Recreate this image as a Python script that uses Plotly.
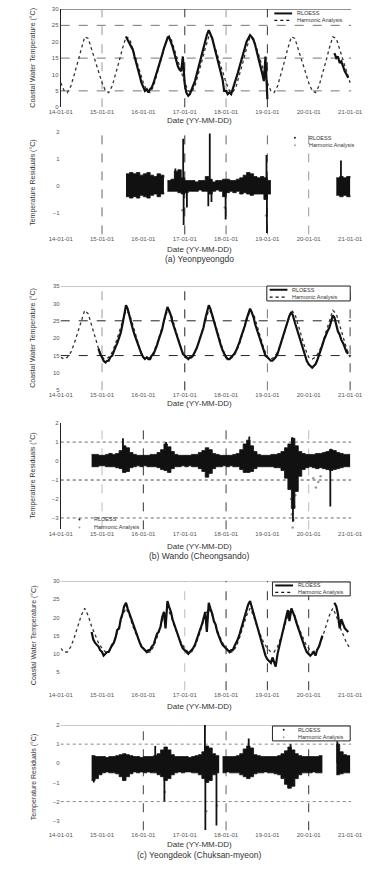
import pandas as pd
import plotly.graph_objects as go

W, H = 380, 874
FONT = "Liberation Sans"

# ---------------------------------------------------------------- data
x_start, x_end = "2014-01-01", "2021-01-10"
year_ticks = ["2014-01-01", "2015-01-01", "2016-01-01", "2017-01-01",
              "2018-01-01", "2019-01-01", "2020-01-01", "2021-01-01"]

series_names = ["RLOESS", "Harmonic Analysis"]
captions = ["(a) Yeonpyeongdo", "(b) Wando (Cheongsando)", "(c) Yeongdeok (Chuksan-myeon)"]
temp_title = "Coastal Water Temperature (°C)"
resid_title = "Temperature Residuals (°C)"
date_title = "Date (YY-MM-DD)"

# harmonic fits, first day of each month 2014-01 .. 2021-01
harm_start = "2014-01-01"
harm_a = [
    7.5, 5, 4.5, 6.5, 10, 14, 18, 21.5, 21, 17.5, 14, 10.5,
    7.5, 5, 4.5, 6.5, 10, 14, 18, 21.5, 21, 17.5, 14, 10.5,
    7.5, 5, 4.5, 6.5, 10, 14, 18, 21.5, 21, 17.5, 14, 10.5,
    7.5, 5, 4.5, 6.5, 10, 14, 18, 21.5, 21, 17.5, 14, 10.5,
    7.5, 5, 4.5, 6.5, 10, 14, 18, 21.5, 21, 17.5, 14, 10.5,
    7.5, 5, 4.5, 6.5, 10, 14, 18, 21.5, 21, 17.5, 14, 10.5,
    7.5, 5, 4.5, 6.5, 10, 14, 18, 21.5, 21, 17.5, 14, 10.5,
    7.5]
harm_b = [
    14.5, 14, 14.5, 16, 18.5, 21.5, 24.5, 28, 27, 23.5, 20, 17,
    14.5, 14, 14.5, 16, 18.5, 21.5, 24.5, 28, 27, 23.5, 20, 17,
    14.5, 14, 14.5, 16, 18.5, 21.5, 24.5, 28, 27, 23.5, 20, 17,
    14.5, 14, 14.5, 16, 18.5, 21.5, 24.5, 28, 27, 23.5, 20, 17,
    14.5, 14, 14.5, 16, 18.5, 21.5, 24.5, 28, 27, 23.5, 20, 17,
    14.5, 14, 14.5, 16, 18.5, 21.5, 24.5, 28, 27, 23.5, 20, 17,
    14.5, 14, 14.5, 16, 18.5, 21.5, 24.5, 28, 27, 23.5, 20, 17,
    14.5]
harm_c = [
    11.5, 10.5, 10.5, 12, 14.5, 17.5, 20.5, 22.5, 20.5, 17.5, 15, 13,
    11.5, 10.5, 10.5, 12, 14.5, 17.5, 20.5, 22.5, 20.5, 17.5, 15, 13,
    11.5, 10.5, 10.5, 12, 14.5, 17.5, 20.5, 22.5, 20.5, 17.5, 15, 13,
    11.5, 10.5, 10.5, 12, 14.5, 17.5, 20.5, 22.5, 20.5, 17.5, 15, 13,
    11.5, 10.5, 10.5, 12, 14.5, 17.5, 20.5, 22.5, 20.5, 17.5, 15, 13,
    11.5, 10.5, 10.5, 12, 14.5, 17.5, 20.5, 22.5, 20.5, 17.5, 15, 13,
    11.5, 10.5, 10.5, 12, 14.5, 17.5, 20.5, 22.5, 20.5, 17.5, 15, 13,
    11.5]

# RLOESS temperatures, 1st and 15th of each month
obs_a1_start = "2015-08-01"
obs_a1 = [
    21.5, 20.5, 19.5, 18.5, 17.5, 15.5, 13.5, 11.5, 9.5, 7.5,
    6, 5, 5.5, 4.5, 5.5, 6, 7.5, 9, 11, 12.5, 14.5, 16, 18, 19.5, 21, 21.5, 20, 18.5, 16.5, 14.5, 12.5, 11.5, 11, 15.5,
    7, 4.5, 3.5, 4, 5, 6.5, 8, 10, 12, 14, 16, 18, 20, 22, 23.5, 22.5, 21, 19, 17, 15, 13, 11, 8.5, 5,
    5, 4, 4.5, 4, 5.5, 7, 8.5, 10.5, 12.5, 14, 16, 18, 20, 21, 22, 21.5, 20.5, 19, 17, 15, 12.5, 10.5, 8, 15.5,
    2.5]
obs_a2_start = "2020-08-15"
obs_a2 = [16.5, 15, 15.5, 13.5, 14, 12, 11, 10, 9]

obs_b_start = "2014-12-01"
obs_b = [
    17, 15.5,
    14.5, 13.5, 13, 13.5, 13.5, 14.5, 15, 16.5, 17.5, 18.5, 20, 21.5, 24, 26.5, 29.5, 28.5, 26, 24.5, 22.5, 21, 19.5, 18, 16.5, 15.5,
    14.5, 14, 14.5, 14, 14, 15, 15.5, 16.5, 18, 19.5, 21, 22.5, 25, 27, 29, 28, 26.5, 24.5, 23, 21.5, 20, 18.5, 17, 15.5,
    15, 14.5, 14, 14.5, 14.5, 15, 16, 17, 18.5, 20, 21.5, 23, 25.5, 27.5, 29.5, 28.5, 26.5, 24.5, 22.5, 21, 19.5, 18, 16.5, 15.5,
    14.5, 14, 14, 14.5, 15, 15.5, 16.5, 17.5, 19, 20.5, 22, 23.5, 25.5, 27, 28.5, 27.5, 26, 24, 22.5, 21, 19.5, 18, 16.5, 15,
    14.5, 14, 13.5, 13.5, 14, 14.5, 15.5, 17, 18.5, 20, 21.5, 23, 25, 26.5, 27.5, 26.5, 24.5, 23, 21.5, 20, 18, 16.5, 15, 13.5,
    12.5, 12, 11.5, 12, 12.5, 13.5, 15, 16.5, 18, 19.5, 21, 22, 23, 25, 26.5, 26, 24, 22, 21, 19.5, 18.5, 17, 16, 15.5]

obs_c_start = "2014-10-01"
obs_c = [
    16, 14, 13, 12.5, 12, 11,
    10.5, 9.5, 10, 10.5, 10.5, 11.5, 12.5, 13, 14.5, 16.5, 17, 19.5, 21, 23, 24, 22.5, 21, 19.5, 18, 17, 15.5, 14, 13, 12,
    11.5, 11, 10.5, 11, 11, 12, 12.5, 14, 15.5, 16, 17.5, 20, 21.5, 17, 24.5, 23, 21.5, 19.5, 18, 16.5, 15, 13.5, 12.5, 11.5,
    11, 10.5, 10, 10.5, 11, 11.5, 12.5, 14, 15, 16.5, 18, 19.5, 21.5, 16, 24, 22.5, 21, 19, 18, 16, 14.5, 13.5, 12.5, 12,
    11.5, 11, 10.5, 11, 11, 12, 13, 14, 15.5, 17, 18.5, 20.5, 22, 23.5, 24.5, 23, 21, 19.5, 18, 16.5, 14.5, 12.5, 11, 9.5,
    8.5, 8, 7.5, 9, 8, 6.5, 10, 12, 14.5, 16.5, 18.5, 20, 22, 19, 22.5, 21.5, 20, 18.5, 17, 15.5, 14, 12.5, 11.5, 10.5,
    10, 9.5, 10, 10.5, 9.5, 11, 12, 13.5, 15, None, None, None, None, None, None, 24, 23, 21, 17, 19.5, 18, 17, 16.5, 16]

# RLOESS residual envelopes (monthly upper / lower), one list pair per record
res_a1_start = "2015-08-01"
res_a1_hi = [0.45, 0.5, 0.45, 0.5, 0.4, 0.45, 0.5, 0.4, 0.35, 0.45, 0.4, 0.3]
res_a1_lo = [-0.4, -0.45, -0.4, -0.45, -0.35, -0.4, -0.45, -0.35, -0.3, -0.4, -0.3, -0.25]
res_a2_start = "2016-08-01"
res_a2_hi = [0.2, 0.25, 0.55, 0.6, 0.3, 0.2, 0.2, 0.2, 0.15, 0.2, 0.2, 0.35, 0.25, 0.15, 0.2,
             0.2, 0.25, 0.25, 0.2, 0.2, 0.25, 0.3, 0.4, 0.5, 0.45, 0.35, 0.3, 0.35, 0.3, 0.2, 0.2]
res_a2_lo = [-0.2, -0.2, -0.2, -0.25, -0.3, -0.25, -0.2, -0.2, -0.2, -0.15, -0.2, -0.2, -0.3, -0.2, -0.15,
             -0.2, -0.4, -0.25, -0.2, -0.25, -0.2, -0.3, -0.25, -0.3, -0.35, -0.3, -0.3, -0.3, -0.5, -0.3, -0.3]
res_a3_start = "2020-09-01"
res_a3_hi = [0.3, 0.35, 0.3, 0.35, 0.3]
res_a3_lo = [-0.35, -0.4, -0.35, -0.4, -0.35]

res_b_start = "2014-10-01"
res_b_hi = [0.35, 0.35, 0.3,
            0.3, 0.35, 0.4, 0.35, 0.4, 0.55, 0.8, 0.7, 0.45, 0.35, 0.3, 0.3,
            0.3, 0.3, 0.35, 0.35, 0.45, 0.6, 0.9, 0.75, 0.5, 0.35, 0.3, 0.3,
            0.3, 0.3, 0.35, 0.35, 0.45, 0.55, 0.7, 0.6, 0.4, 0.35, 0.3, 0.3,
            0.3, 0.3, 0.35, 0.4, 0.6, 0.9, 1.1, 0.8, 0.5, 0.35, 0.3, 0.3,
            0.3, 0.35, 0.35, 0.4, 0.5, 0.7, 0.9, 1.2, 0.8, 0.5, 0.4, 0.35,
            0.35, 0.35, 0.4, 0.4, 0.45, 0.5, 0.6, 0.55, 0.45, 0.4, 0.35, 0.35,
            0.35]
res_b_lo = [-0.3, -0.3, -0.25,
            -0.25, -0.3, -0.3, -0.3, -0.35, -0.4, -0.6, -0.55, -0.35, -0.3, -0.25, -0.3,
            -0.25, -0.3, -0.3, -0.3, -0.35, -0.45, -0.5, -0.6, -0.4, -0.3, -0.3, -0.25,
            -0.3, -0.25, -0.3, -0.3, -0.4, -0.55, -0.85, -0.65, -0.4, -0.3, -0.3, -0.25,
            -0.3, -0.25, -0.3, -0.3, -0.45, -0.6, -0.6, -0.55, -0.4, -0.3, -0.3, -0.3,
            -0.3, -0.3, -0.35, -0.35, -0.5, -0.9, -1.5, -2.5, -1.6, -0.8, -0.45, -0.35,
            -0.3, -0.35, -0.4, -0.35, -0.4, -0.45, -0.5, -0.45, -0.4, -0.35, -0.3, -0.3,
            -0.3]

res_c1_start = "2014-10-01"
res_c1_hi = [0.4, 0.35, 0.35,
             0.35, 0.3, 0.35, 0.35, 0.4, 0.45, 0.5, 0.45, 0.4, 0.35, 0.35, 0.3,
             0.35, 0.35, 0.35, 0.4, 0.5, 0.7, 0.85, 0.7, 0.45, 0.35, 0.35, 0.35,
             0.35, 0.3, 0.35, 0.4, 0.45, 0.6, 0.9, 0.8, 0.5, 0.4, 0.4]
res_c1_lo = [-0.9, -0.8, -0.6,
             -0.5, -0.45, -0.5, -0.5, -0.55, -0.7, -0.9, -0.7, -0.55, -0.45, -0.5, -0.45,
             -0.5, -0.45, -0.5, -0.5, -0.6, -0.7, -0.9, -0.8, -0.6, -0.5, -0.45, -0.5,
             -0.45, -0.45, -0.5, -0.5, -0.6, -0.8, -1.0, -0.9, -0.6, -0.5, -0.5]
res_c2_start = "2017-12-01"
res_c2_hi = [0.35,
             0.35, 0.35, 0.35, 0.4, 0.5, 0.75, 0.9, 0.8, 0.45, 0.4, 0.35, 0.35,
             0.35, 0.35, 0.35, 0.4, 0.5, 0.65, 0.85, 0.7, 0.5, 0.4, 0.35, 0.35,
             0.35, 0.35, 0.35, 0.4, 0.4]
res_c2_lo = [-0.5,
             -0.45, -0.5, -0.5, -0.5, -0.6, -0.7, -0.8, -0.7, -0.55, -0.5, -0.5, -0.45,
             -0.5, -0.5, -0.55, -0.6, -0.8, -1.1, -1.3, -1.2, -0.8, -0.6, -0.5, -0.5,
             -0.5, -0.45, -0.5, -0.5, -0.5]
res_c3_start = "2020-09-01"
res_c3_hi = [1.0, 0.6, 0.45, 0.4, 0.4]
res_c3_lo = [-0.6, -0.55, -0.5, -0.5, -0.5]

# isolated residual excursions (RLOESS)
spike_a_dates = ["2016-10-10", "2016-12-18", "2016-12-22", "2017-01-20", "2017-07-28", "2017-08-10",
                 "2017-08-25", "2017-12-28", "2018-12-24", "2018-12-28", "2020-10-12"]
spike_a_vals = [0.65, 1.75, -1.45, -0.8, -0.75, 1.95, -0.6, -1.25, 1.15, -1.75, 0.95]
spike_b_dates = ["2015-07-05", "2016-07-20", "2018-07-25", "2019-08-08", "2019-08-15", "2020-07-10", "2020-07-14"]
spike_b_vals = [1.2, 1.0, 1.3, 1.25, -3.2, -2.4, 0.65]
spike_c_dates = ["2014-10-20", "2015-07-10", "2016-04-15", "2016-07-05", "2017-06-28", "2017-07-02",
                 "2017-10-08", "2018-07-20", "2019-07-05", "2019-07-25", "2020-09-10"]
spike_c_vals = [-1.0, -0.9, 0.9, -2.0, 2.0, -3.5, -3.25, 1.3, -1.3, 1.0, 1.15]

# harmonic-analysis residual points
hres_a_dates = ["2016-12-10", "2017-12-20", "2018-12-20"]
hres_a_vals = [-0.9, -0.8, -1.1]
hres_b_dates = ["2019-07-20", "2019-07-28", "2019-08-05", "2019-08-12", "2019-08-20", "2019-08-28",
                "2019-09-05", "2019-09-15", "2020-02-10", "2020-03-05", "2020-03-25", "2020-04-15"]
hres_b_vals = [-1.2, -2.0, -2.8, -3.5, -3.1, -2.4, -1.8, -1.3, -0.9, -1.4, -1.1, -0.8]
hres_c_dates = ["2016-07-10", "2017-07-10", "2017-10-12", "2019-07-01"]
hres_c_vals = [-1.5, -2.5, -2.2, -1.1]

# ---------------------------------------------------------------- layout helpers
XDOM = [52 / W, 362 / W]


def px_x(x):
    return x / W


def px_y(y):
    return 1 - y / H


panels = [
    dict(top=6, bot=105, yr=[0, 30], yt=[0, 5, 10, 15, 20, 25, 30], yline=True, title=temp_title,
         hl=[(5, "dash", "#777"), (15, "dash", "#777"), (25, "dash", "#777"), (30, "solid", "#111")],
         vl=[("2015-01-01", "#999"), ("2017-01-01", "#333"), ("2018-01-01", "#999"), ("2019-01-01", "#333")]),
    dict(top=130, bot=233, yr=[-1.8, 2], yt=[-1, 0, 1, 2], yline=False, title=resid_title,
         hl=[],
         vl=[("2015-01-01", "#666"), ("2017-01-01", "#333"), ("2018-01-01", "#666"),
             ("2019-01-01", "#666"), ("2020-01-01", "#999")]),
    dict(top=285, bot=390, yr=[5, 35], yt=[5, 10, 15, 20, 25, 30, 35], yline=False, title=temp_title,
         hl=[(15, "dash", "#222"), (25, "dash", "#222"), (35, "solid", "#999")],
         vl=[("2015-01-01", "#999"), ("2017-01-01", "#222"), ("2019-01-01", "#777"), ("2021-01-01", "#444")]),
    dict(top=423, bot=530, yr=[-3.6, 2], yt=[-3, -2, -1, 0, 1, 2], yline=True, title=resid_title,
         hl=[(1, "dot", "#666"), (-1, "dot", "#444"), (-3, "dot", "#666")],
         vl=[("2015-01-01", "#bbb"), ("2016-01-01", "#333"), ("2018-01-01", "#444"), ("2020-01-01", "#bbb")]),
    dict(top=582, bot=692, yr=[0, 30], yt=[5, 10, 15, 20, 25, 30], yline=False, title=temp_title,
         hl=[(30, "solid", "#999")],
         vl=[("2017-01-01", "#bbb"), ("2018-01-01", "#333"), ("2019-01-01", "#333"), ("2020-01-01", "#333")]),
    dict(top=727, bot=833, yr=[-3.5, 2], yt=[-3, -2, -1, 0, 1, 2], yline=False, title=resid_title,
         hl=[(2, "solid", "#999"), (1, "dot", "#888"), (-2, "dot", "#888")],
         vl=[("2016-01-01", "#444"), ("2018-01-01", "#666"), ("2020-01-01", "#333")]),
]

fig = go.Figure()
shapes, annos = [], []
tick_font = dict(family=FONT, size=6, color="#555")


def text_at(text, xpx, ypx, size, xanchor="center", angle=0, color="#333"):
    annos.append(dict(text=text, xref="paper", yref="paper", x=px_x(xpx), y=px_y(ypx),
                      xanchor=xanchor, yanchor="middle", textangle=angle, showarrow=False,
                      font=dict(family=FONT, size=size, color=color)))


for i, p in enumerate(panels, start=1):
    sfx = "" if i == 1 else str(i)
    fig.update_layout({
        f"xaxis{sfx}": dict(domain=XDOM, anchor=f"y{sfx}", type="date", range=[x_start, x_end],
                            tickvals=year_ticks, tickformat="%y-%m-%d", tickfont=tick_font,
                            showgrid=False, zeroline=False, showline=False, ticks=""),
        f"yaxis{sfx}": dict(domain=[px_y(p["bot"]), px_y(p["top"])], anchor=f"x{sfx}",
                            range=p["yr"], tickvals=p["yt"], tickfont=tick_font,
                            showgrid=False, zeroline=False, showline=p["yline"],
                            linecolor="#222", linewidth=1, ticks=""),
    })
    for y, dash, col in p["hl"]:
        shapes.append(dict(type="line", xref=f"x{sfx} domain", yref=f"y{sfx}", x0=0, x1=1, y0=y, y1=y,
                           line=dict(color=col, width=1, dash=dash), layer="below"))
    for d, col in p["vl"]:
        shapes.append(dict(type="line", xref=f"x{sfx}", yref=f"y{sfx} domain", x0=d, x1=d, y0=0, y1=1,
                           line=dict(color=col, width=1, dash="dash"), layer="below"))
    text_at(p["title"], 23, (p["top"] + p["bot"]) / 2, 7, angle=-90)

# x-axis titles and captions
for ypx in [118, 248, 403, 547, 708, 847]:
    text_at(date_title, 200, ypx, 8)
for cap, ypx in zip(captions, [258, 557, 858]):
    text_at(cap, 200, ypx, 8.5)


def ax(i):
    sfx = "" if i == 1 else str(i)
    return dict(xaxis=f"x{sfx}", yaxis=f"y{sfx}")


def semi_monthly(start, vals):
    return pd.date_range(start, periods=len(vals), freq="SMS")


def monthly(start, vals):
    return pd.date_range(start, periods=len(vals), freq="MS")


def temp_panel(i, harm, obs_segments):
    fig.add_trace(go.Scatter(x=monthly(harm_start, harm), y=harm, mode="lines", name=series_names[1],
                             line=dict(color="#333", width=1.3, dash="dot"), showlegend=False, **ax(i)))
    for start, vals in obs_segments:
        fig.add_trace(go.Scatter(x=semi_monthly(start, vals), y=vals, mode="lines", name=series_names[0],
                                 line=dict(color="#111", width=2.2), connectgaps=False,
                                 showlegend=False, **ax(i)))


def resid_panel(i, segments, sp_dates, sp_vals, h_dates, h_vals):
    fig.add_trace(go.Scatter(x=pd.to_datetime(h_dates), y=h_vals, mode="markers", name=series_names[1],
                             marker=dict(color="#999", size=2.5), showlegend=False, **ax(i)))
    for start, hi, lo in segments:
        d = monthly(start, hi)
        fig.add_trace(go.Scatter(x=d, y=lo, mode="lines", line=dict(color="#111", width=0.8, shape="hv"),
                                 showlegend=False, hoverinfo="skip", **ax(i)))
        fig.add_trace(go.Scatter(x=d, y=hi, mode="lines", line=dict(color="#111", width=0.8, shape="hv"),
                                 fill="tonexty", fillcolor="#111", name=series_names[0],
                                 showlegend=False, **ax(i)))
    xs, ys = [], []
    for d, v in zip(pd.to_datetime(sp_dates), sp_vals):
        xs += [d, d, None]
        ys += [0, v, None]
    fig.add_trace(go.Scatter(x=xs, y=ys, mode="lines", line=dict(color="#111", width=1.8),
                             showlegend=False, **ax(i)))


temp_panel(1, harm_a, [(obs_a1_start, obs_a1), (obs_a2_start, obs_a2)])
resid_panel(2, [(res_a1_start, res_a1_hi, res_a1_lo), (res_a2_start, res_a2_hi, res_a2_lo),
                (res_a3_start, res_a3_hi, res_a3_lo)], spike_a_dates, spike_a_vals, hres_a_dates, hres_a_vals)
temp_panel(3, harm_b, [(obs_b_start, obs_b)])
resid_panel(4, [(res_b_start, res_b_hi, res_b_lo)], spike_b_dates, spike_b_vals, hres_b_dates, hres_b_vals)
temp_panel(5, harm_c, [(obs_c_start, obs_c)])
resid_panel(6, [(res_c1_start, res_c1_hi, res_c1_lo), (res_c2_start, res_c2_hi, res_c2_lo),
                (res_c3_start, res_c3_hi, res_c3_lo)], spike_c_dates, spike_c_vals, hres_c_dates, hres_c_vals)


# ---------------------------------------------------------------- legends
def legend(x0, y0, x1, y1, kinds, box):
    if box:
        shapes.append(dict(type="rect", xref="paper", yref="paper", x0=px_x(x0), x1=px_x(x1),
                           y0=px_y(y1), y1=px_y(y0), line=dict(color="#222", width=1),
                           fillcolor="white"))
    step = (y1 - y0) / len(kinds)
    for k, (label, kind) in enumerate(zip(series_names, kinds)):
        yc = y0 + step * (k + 0.5)
        if kind in ("solid", "dotted"):
            shapes.append(dict(type="line", xref="paper", yref="paper",
                               x0=px_x(x0 + 3), x1=px_x(x0 + 22), y0=px_y(yc), y1=px_y(yc),
                               line=dict(color="#111", width=2 if kind == "solid" else 1.3,
                                         dash="solid" if kind == "solid" else "dot")))
        else:
            col = "#111" if kind == "dot" else "#999"
            shapes.append(dict(type="circle", xref="paper", yref="paper",
                               x0=px_x(x0 + 11), x1=px_x(x0 + 13), y0=px_y(yc + 1), y1=px_y(yc - 1),
                               fillcolor=col, line=dict(color=col, width=0)))
        text_at(label, x0 + 25, yc, 5.5, xanchor="left")


legend(277, 7, 360, 21, ["solid", "dotted"], False)
legend(290, 132, 360, 147, ["dot", "gray"], False)
legend(272, 285, 361, 300, ["solid", "dotted"], True)
legend(60, 516, 140, 532, ["dot", "gray"], False)
legend(278, 583, 361, 597, ["solid", "dotted"], True)
legend(278, 728, 361, 743, ["dot", "gray"], True)

fig.update_layout(width=W, height=H, margin=dict(l=0, r=0, t=0, b=0),
                  paper_bgcolor="white", plot_bgcolor="white", showlegend=False,
                  font=dict(family=FONT, color="#333"), shapes=shapes, annotations=annos)

fig.write_html("out.html")
